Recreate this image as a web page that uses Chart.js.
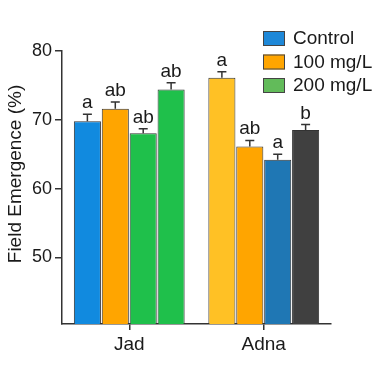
<!DOCTYPE html>
<html>
<head>
<meta charset="utf-8">
<script src="https://cdn.jsdelivr.net/npm/chart.js@4"></script>
<style>
  html, body { margin: 0; padding: 0; background: #fff; }
  #wrap { width: 384px; height: 373px; }
</style>
</head>
<body>
<div id="wrap"><canvas id="emergenceChart" width="384" height="373"></canvas></div>
<script>
// data
var cultivars = ['Jad', 'Adna'];
var bar1 = [69.8, 76.1];
var bar2 = [71.6, 66.1];
var bar3 = [68.05, 64.2];
var bar4 = [74.4, 68.5];
var err1 = [1.0, 0.9];
var err2 = [1.0, 0.9];
var err3 = [0.65, 0.8];
var err4 = [1.0, 0.8];
var letters1 = ['a', 'a'];
var letters2 = ['ab', 'ab'];
var letters3 = ['ab', 'a'];
var letters4 = ['ab', 'b'];
var yTicks = [50, 60, 70, 80];
var legendNames = ['Control', '100 mg/L', '200 mg/L'];
var legendColors = ['#1E88D8', '#FFA500', '#62BB5A'];

var fontName = '"Liberation Sans", Arial, sans-serif';
var ink = '#1a1a1a';

function makeSet(values, errs, letters, colors) {
    return {
        data: values,
        errors: errs,
        letters: letters,
        backgroundColor: colors,
        borderColor: '#333',
        borderWidth: 1,
        categoryPercentage: 0.83,
        barPercentage: 0.97
    };
}

// error bars + significance letters
var errorBars = {
    id: 'errorBars',
    afterDatasetsDraw: function(chart) {
        var ctx = chart.ctx;
        var y = chart.scales.y;
        ctx.save();
        chart.data.datasets.forEach(function(ds, i) {
            var meta = chart.getDatasetMeta(i);
            meta.data.forEach(function(bar, j) {
                var top = y.getPixelForValue(ds.data[j] + ds.errors[j]);
                ctx.strokeStyle = '#333';
                ctx.lineWidth = 1.5;
                ctx.beginPath();
                ctx.moveTo(bar.x, bar.y);
                ctx.lineTo(bar.x, top);
                ctx.moveTo(bar.x - 4.5, top);
                ctx.lineTo(bar.x + 4.5, top);
                ctx.stroke();
                ctx.fillStyle = ink;
                ctx.font = '19px ' + fontName;
                ctx.textAlign = 'center';
                ctx.textBaseline = 'alphabetic';
                ctx.fillText(ds.letters[j], bar.x, top - 6);
            });
        });
        ctx.restore();
    }
};

// legend drawn inside plot, top right, and rotated y title
var extras = {
    id: 'extras',
    afterDraw: function(chart) {
        var ctx = chart.ctx;
        ctx.save();
        ctx.font = '19px ' + fontName;
        ctx.textBaseline = 'middle';
        ctx.textAlign = 'left';
        legendNames.forEach(function(name, i) {
            var by = 31 + i * 23.5;
            ctx.fillStyle = legendColors[i];
            ctx.fillRect(263, by, 22, 15);
            ctx.strokeStyle = '#444';
            ctx.lineWidth = 1;
            ctx.strokeRect(263.5, by + 0.5, 21, 14);
            ctx.fillStyle = ink;
            ctx.fillText(name, 293, by + 8);
        });
        ctx.translate(16, 174);
        ctx.rotate(-Math.PI / 2);
        ctx.textAlign = 'center';
        ctx.fillText('Field Emergence (%)', 0, 0);
        ctx.restore();
    }
};

var chartCtx = document.getElementById('emergenceChart').getContext('2d');
var chart = new Chart(chartCtx, {
    type: 'bar',
    data: {
        labels: cultivars,
        datasets: [
            makeSet(bar1, err1, letters1, ['#118ADF', '#FFC125']),
            makeSet(bar2, err2, letters2, ['#FFA500', '#FFA500']),
            makeSet(bar3, err3, letters3, ['#1FC04B', '#1F77B4']),
            makeSet(bar4, err4, letters4, ['#1FC04B', '#404040'])
        ]
    },
    options: {
        responsive: false,
        animation: false,
        layout: { padding: { top: 51, right: 53, bottom: 0, left: 0 } },
        plugins: {
            legend: { display: false },
            tooltip: { enabled: false }
        },
        scales: {
            x: {
                offset: true,
                grid: { display: true, offset: false, drawOnChartArea: false, drawTicks: true, tickLength: 6, color: '#333', lineWidth: 1.5 },
                border: { display: true, color: '#333', width: 1.5 },
                ticks: { color: ink, padding: 3, font: { family: fontName, size: 19 } },
                afterFit: function(scale) { scale.height = 49; }
            },
            y: {
                min: 40.3,
                max: 80,
                afterBuildTicks: function(scale) {
                    scale.ticks = yTicks.map(function(v) { return { value: v }; });
                },
                grid: { display: true, drawOnChartArea: false, drawTicks: true, tickLength: 7, color: '#333', lineWidth: 1.5 },
                border: { display: true, color: '#333', width: 1.5 },
                ticks: { color: ink, padding: 3, font: { family: fontName, size: 18 } },
                afterFit: function(scale) { scale.width = 62; }
            }
        }
    },
    plugins: [errorBars, extras]
});
</script>
</body>
</html>
